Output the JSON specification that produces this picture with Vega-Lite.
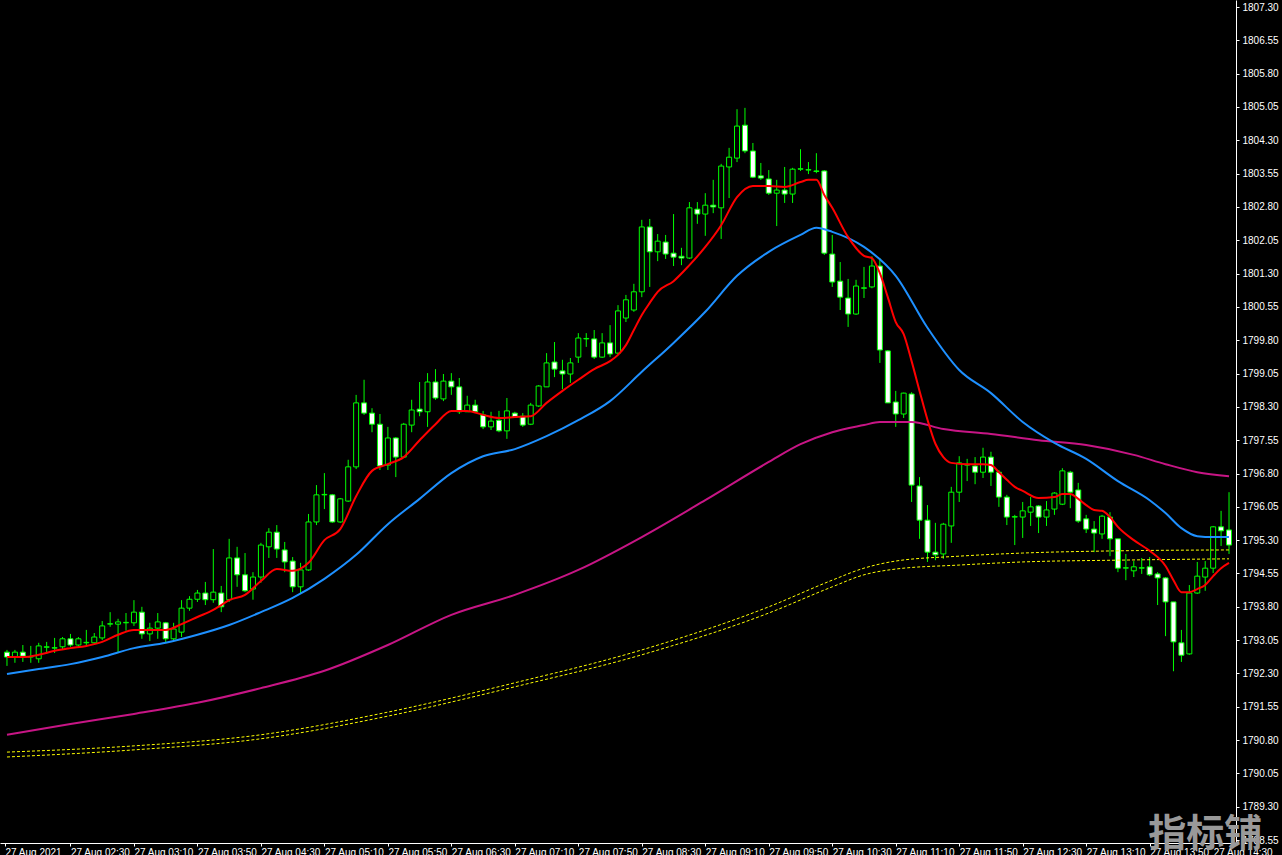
{
"$schema":"https://vega.github.io/schema/vega-lite/v6.json",
"width":1236,"height":843,
"autosize":{"type":"none"},
"padding":{"left":0,"top":0,"right":46,"bottom":12},
"background":"#000000",
"config":{"view":{"stroke":null},"axis":{"grid":false,"domainColor":"#ffffff","tickColor":"#ffffff","labelColor":"#ffffff","labelFont":"Liberation Sans","labelFontSize":10,"tickSize":3,"domainWidth":1,"title":null}},
"datasets":{
"candles":[
{"t":"01:50","o":1792.78,"h":1792.83,"l":1792.47,"c":1792.67},
{"t":"01:55","o":1792.67,"h":1792.83,"l":1792.54,"c":1792.78},
{"t":"02:00","o":1792.78,"h":1792.94,"l":1792.56,"c":1792.69},
{"t":"02:05","o":1792.67,"h":1792.92,"l":1792.54,"c":1792.68},
{"t":"02:10","o":1792.63,"h":1792.99,"l":1792.54,"c":1792.92},
{"t":"02:15","o":1792.89,"h":1793.01,"l":1792.74,"c":1792.90},
{"t":"02:20","o":1792.87,"h":1793.10,"l":1792.76,"c":1792.88},
{"t":"02:25","o":1792.90,"h":1793.12,"l":1792.85,"c":1793.08},
{"t":"02:30","o":1793.08,"h":1793.19,"l":1792.90,"c":1792.94},
{"t":"02:35","o":1792.94,"h":1793.12,"l":1792.90,"c":1793.08},
{"t":"02:40","o":1792.99,"h":1793.28,"l":1792.94,"c":1793.00},
{"t":"02:45","o":1792.99,"h":1793.21,"l":1792.96,"c":1793.12},
{"t":"02:50","o":1793.10,"h":1793.48,"l":1793.05,"c":1793.37},
{"t":"02:55","o":1793.41,"h":1793.68,"l":1793.35,"c":1793.42},
{"t":"03:00","o":1793.41,"h":1793.53,"l":1792.78,"c":1793.46},
{"t":"03:05","o":1793.44,"h":1793.66,"l":1793.26,"c":1793.45},
{"t":"03:10","o":1793.44,"h":1793.95,"l":1793.37,"c":1793.68},
{"t":"03:15","o":1793.68,"h":1793.80,"l":1793.08,"c":1793.19},
{"t":"03:20","o":1793.19,"h":1793.44,"l":1793.03,"c":1793.32},
{"t":"03:25","o":1793.32,"h":1793.66,"l":1793.08,"c":1793.46},
{"t":"03:30","o":1793.44,"h":1793.46,"l":1792.99,"c":1793.08},
{"t":"03:35","o":1793.08,"h":1793.44,"l":1793.03,"c":1793.30},
{"t":"03:40","o":1793.23,"h":1793.95,"l":1793.12,"c":1793.77},
{"t":"03:45","o":1793.77,"h":1794.04,"l":1793.71,"c":1793.97},
{"t":"03:50","o":1793.97,"h":1794.18,"l":1793.91,"c":1794.11},
{"t":"03:55","o":1794.11,"h":1794.36,"l":1793.84,"c":1793.96},
{"t":"04:00","o":1793.96,"h":1795.10,"l":1793.89,"c":1794.13},
{"t":"04:05","o":1794.11,"h":1794.27,"l":1793.68,"c":1793.80},
{"t":"04:10","o":1793.96,"h":1795.33,"l":1793.91,"c":1794.90},
{"t":"04:15","o":1794.90,"h":1795.15,"l":1794.25,"c":1794.52},
{"t":"04:20","o":1794.52,"h":1795.01,"l":1794.13,"c":1794.16},
{"t":"04:25","o":1794.20,"h":1794.58,"l":1793.96,"c":1794.47},
{"t":"04:30","o":1794.47,"h":1795.24,"l":1794.34,"c":1795.19},
{"t":"04:35","o":1795.15,"h":1795.57,"l":1794.90,"c":1795.48},
{"t":"04:40","o":1795.48,"h":1795.64,"l":1794.90,"c":1795.10},
{"t":"04:45","o":1795.08,"h":1795.26,"l":1794.58,"c":1794.81},
{"t":"04:50","o":1794.83,"h":1794.92,"l":1794.13,"c":1794.25},
{"t":"04:55","o":1794.25,"h":1794.79,"l":1794.11,"c":1794.63},
{"t":"05:00","o":1794.63,"h":1795.89,"l":1794.61,"c":1795.71},
{"t":"05:05","o":1795.71,"h":1796.54,"l":1795.64,"c":1796.32},
{"t":"05:10","o":1796.32,"h":1796.81,"l":1796.00,"c":1796.33},
{"t":"05:15","o":1796.32,"h":1796.34,"l":1795.69,"c":1795.71},
{"t":"05:20","o":1795.71,"h":1796.25,"l":1795.69,"c":1796.23},
{"t":"05:25","o":1796.18,"h":1797.11,"l":1796.16,"c":1796.95},
{"t":"05:30","o":1796.95,"h":1798.57,"l":1796.90,"c":1798.39},
{"t":"05:35","o":1798.39,"h":1798.91,"l":1798.12,"c":1798.16},
{"t":"05:40","o":1798.16,"h":1798.27,"l":1797.73,"c":1797.91},
{"t":"05:45","o":1797.91,"h":1798.14,"l":1796.88,"c":1796.97},
{"t":"05:50","o":1796.99,"h":1797.85,"l":1796.88,"c":1797.60},
{"t":"05:55","o":1797.60,"h":1797.62,"l":1796.72,"c":1797.17},
{"t":"06:00","o":1797.17,"h":1797.94,"l":1797.15,"c":1797.91},
{"t":"06:05","o":1797.89,"h":1798.46,"l":1797.73,"c":1798.23},
{"t":"06:10","o":1798.25,"h":1798.86,"l":1798.09,"c":1798.19},
{"t":"06:15","o":1798.19,"h":1799.06,"l":1797.85,"c":1798.86},
{"t":"06:20","o":1798.86,"h":1799.15,"l":1798.46,"c":1798.50},
{"t":"06:25","o":1798.48,"h":1799.04,"l":1798.43,"c":1798.88},
{"t":"06:30","o":1798.88,"h":1799.06,"l":1798.57,"c":1798.75},
{"t":"06:35","o":1798.75,"h":1798.95,"l":1798.14,"c":1798.19},
{"t":"06:40","o":1798.19,"h":1798.55,"l":1798.19,"c":1798.34},
{"t":"06:45","o":1798.34,"h":1798.46,"l":1798.16,"c":1798.19},
{"t":"06:50","o":1798.12,"h":1798.21,"l":1797.80,"c":1797.85},
{"t":"06:55","o":1797.85,"h":1798.19,"l":1797.78,"c":1797.98},
{"t":"07:00","o":1798.00,"h":1798.21,"l":1797.73,"c":1797.76},
{"t":"07:05","o":1797.76,"h":1798.50,"l":1797.58,"c":1798.21},
{"t":"07:10","o":1798.16,"h":1798.19,"l":1798.05,"c":1798.07},
{"t":"07:15","o":1798.09,"h":1798.16,"l":1797.85,"c":1797.89},
{"t":"07:20","o":1797.91,"h":1798.39,"l":1797.89,"c":1798.34},
{"t":"07:25","o":1798.32,"h":1798.79,"l":1798.30,"c":1798.77},
{"t":"07:30","o":1798.75,"h":1799.51,"l":1798.75,"c":1799.29},
{"t":"07:35","o":1799.31,"h":1799.76,"l":1798.97,"c":1799.15},
{"t":"07:40","o":1799.11,"h":1799.36,"l":1798.70,"c":1799.04},
{"t":"07:45","o":1799.04,"h":1799.40,"l":1798.84,"c":1799.29},
{"t":"07:50","o":1799.42,"h":1799.96,"l":1799.29,"c":1799.85},
{"t":"07:55","o":1799.83,"h":1799.96,"l":1799.65,"c":1799.84},
{"t":"08:00","o":1799.83,"h":1800.03,"l":1799.38,"c":1799.42},
{"t":"08:05","o":1799.42,"h":1799.96,"l":1799.40,"c":1799.74},
{"t":"08:10","o":1799.74,"h":1800.14,"l":1799.42,"c":1799.49},
{"t":"08:15","o":1799.51,"h":1800.59,"l":1799.47,"c":1800.46},
{"t":"08:20","o":1800.30,"h":1800.82,"l":1800.21,"c":1800.71},
{"t":"08:25","o":1800.48,"h":1801.07,"l":1800.44,"c":1800.89},
{"t":"08:30","o":1800.89,"h":1802.51,"l":1800.77,"c":1802.35},
{"t":"08:35","o":1802.35,"h":1802.53,"l":1801.00,"c":1801.79},
{"t":"08:40","o":1801.79,"h":1802.19,"l":1801.58,"c":1802.03},
{"t":"08:45","o":1802.01,"h":1802.17,"l":1801.63,"c":1801.74},
{"t":"08:50","o":1801.76,"h":1802.64,"l":1801.47,"c":1801.67},
{"t":"08:55","o":1801.69,"h":1801.88,"l":1801.49,"c":1801.65},
{"t":"09:00","o":1801.65,"h":1802.91,"l":1801.63,"c":1802.78},
{"t":"09:05","o":1802.75,"h":1802.91,"l":1802.42,"c":1802.64},
{"t":"09:10","o":1802.64,"h":1803.11,"l":1802.15,"c":1802.84},
{"t":"09:15","o":1802.84,"h":1803.41,"l":1802.66,"c":1802.80},
{"t":"09:20","o":1802.78,"h":1803.77,"l":1802.08,"c":1803.72},
{"t":"09:25","o":1803.70,"h":1804.13,"l":1803.00,"c":1803.92},
{"t":"09:30","o":1803.90,"h":1805.00,"l":1803.81,"c":1804.62},
{"t":"09:35","o":1804.64,"h":1805.03,"l":1804.01,"c":1804.06},
{"t":"09:40","o":1804.06,"h":1804.24,"l":1803.45,"c":1803.47},
{"t":"09:45","o":1803.50,"h":1803.79,"l":1803.41,"c":1803.45},
{"t":"09:50","o":1803.43,"h":1803.63,"l":1803.07,"c":1803.11},
{"t":"09:55","o":1803.11,"h":1803.41,"l":1802.37,"c":1803.18},
{"t":"10:00","o":1803.18,"h":1803.70,"l":1802.89,"c":1803.09},
{"t":"10:05","o":1803.09,"h":1803.68,"l":1802.89,"c":1803.65},
{"t":"10:10","o":1803.65,"h":1804.10,"l":1803.61,"c":1803.66},
{"t":"10:15","o":1803.63,"h":1803.81,"l":1803.54,"c":1803.64},
{"t":"10:20","o":1803.61,"h":1804.01,"l":1803.56,"c":1803.60},
{"t":"10:25","o":1803.61,"h":1803.63,"l":1801.72,"c":1801.76},
{"t":"10:30","o":1801.74,"h":1802.17,"l":1801.00,"c":1801.11},
{"t":"10:35","o":1801.13,"h":1801.56,"l":1800.48,"c":1800.77},
{"t":"10:40","o":1800.75,"h":1801.18,"l":1800.10,"c":1800.39},
{"t":"10:45","o":1800.39,"h":1801.16,"l":1800.37,"c":1801.02},
{"t":"10:50","o":1800.97,"h":1801.45,"l":1800.75,"c":1800.98},
{"t":"10:55","o":1801.00,"h":1801.69,"l":1800.97,"c":1801.47},
{"t":"11:00","o":1801.47,"h":1801.65,"l":1799.29,"c":1799.58},
{"t":"11:05","o":1799.56,"h":1799.58,"l":1798.39,"c":1798.39},
{"t":"11:10","o":1798.41,"h":1798.66,"l":1797.85,"c":1798.14},
{"t":"11:15","o":1798.14,"h":1798.62,"l":1798.05,"c":1798.61},
{"t":"11:20","o":1798.59,"h":1798.63,"l":1796.16,"c":1796.54},
{"t":"11:25","o":1796.52,"h":1796.72,"l":1795.33,"c":1795.75},
{"t":"11:30","o":1795.75,"h":1796.09,"l":1794.81,"c":1795.03},
{"t":"11:35","o":1795.03,"h":1795.69,"l":1794.85,"c":1794.97},
{"t":"11:40","o":1794.99,"h":1795.69,"l":1794.88,"c":1795.66},
{"t":"11:45","o":1795.62,"h":1796.50,"l":1795.24,"c":1796.38},
{"t":"11:50","o":1796.38,"h":1797.19,"l":1796.16,"c":1797.04},
{"t":"11:55","o":1796.99,"h":1797.13,"l":1796.63,"c":1797.00},
{"t":"12:00","o":1796.97,"h":1797.17,"l":1796.56,"c":1796.83},
{"t":"12:05","o":1796.83,"h":1797.38,"l":1796.70,"c":1797.17},
{"t":"12:10","o":1797.17,"h":1797.29,"l":1796.52,"c":1796.83},
{"t":"12:15","o":1796.83,"h":1796.88,"l":1796.05,"c":1796.27},
{"t":"12:20","o":1796.27,"h":1796.32,"l":1795.64,"c":1795.82},
{"t":"12:25","o":1795.82,"h":1795.87,"l":1795.19,"c":1795.83},
{"t":"12:30","o":1795.82,"h":1796.16,"l":1795.35,"c":1795.96},
{"t":"12:35","o":1795.93,"h":1796.27,"l":1795.62,"c":1796.05},
{"t":"12:40","o":1796.07,"h":1796.09,"l":1795.46,"c":1795.82},
{"t":"12:45","o":1795.82,"h":1796.18,"l":1795.62,"c":1795.98},
{"t":"12:50","o":1796.00,"h":1796.38,"l":1795.87,"c":1796.36},
{"t":"12:55","o":1796.11,"h":1796.92,"l":1796.09,"c":1796.86},
{"t":"13:00","o":1796.83,"h":1796.86,"l":1796.02,"c":1796.38},
{"t":"13:05","o":1796.43,"h":1796.59,"l":1795.69,"c":1795.73},
{"t":"13:10","o":1795.78,"h":1795.87,"l":1795.46,"c":1795.55},
{"t":"13:15","o":1795.55,"h":1795.73,"l":1795.03,"c":1795.46},
{"t":"13:20","o":1795.44,"h":1795.87,"l":1795.33,"c":1795.84},
{"t":"13:25","o":1795.82,"h":1795.93,"l":1794.94,"c":1795.33},
{"t":"13:30","o":1795.33,"h":1795.33,"l":1794.58,"c":1794.67},
{"t":"13:35","o":1794.67,"h":1794.99,"l":1794.40,"c":1794.68},
{"t":"13:40","o":1794.61,"h":1794.83,"l":1794.47,"c":1794.70},
{"t":"13:45","o":1794.67,"h":1794.90,"l":1794.54,"c":1794.68},
{"t":"13:50","o":1794.70,"h":1794.92,"l":1794.49,"c":1794.52},
{"t":"13:55","o":1794.54,"h":1794.58,"l":1793.84,"c":1794.45},
{"t":"14:00","o":1794.45,"h":1794.47,"l":1793.14,"c":1793.91},
{"t":"14:05","o":1793.91,"h":1793.91,"l":1792.35,"c":1793.01},
{"t":"14:10","o":1792.99,"h":1793.28,"l":1792.56,"c":1792.71},
{"t":"14:15","o":1792.74,"h":1794.29,"l":1792.72,"c":1794.11},
{"t":"14:20","o":1794.11,"h":1794.81,"l":1794.09,"c":1794.49},
{"t":"14:25","o":1794.47,"h":1794.83,"l":1794.16,"c":1794.67},
{"t":"14:30","o":1794.67,"h":1795.62,"l":1794.56,"c":1795.60},
{"t":"14:35","o":1795.60,"h":1795.96,"l":1795.17,"c":1795.51},
{"t":"14:40","o":1795.53,"h":1796.38,"l":1794.99,"c":1795.19}
],
"lines":[
{"s":"red","t":"01:50","v":1792.67},{"s":"red","t":"02:00","v":1792.67},{"s":"red","t":"02:10","v":1792.72},{"s":"red","t":"02:20","v":1792.81},{"s":"red","t":"02:30","v":1792.87},{"s":"red","t":"02:40","v":1792.92},{"s":"red","t":"02:50","v":1793.01},{"s":"red","t":"03:00","v":1793.17},{"s":"red","t":"03:10","v":1793.28},{"s":"red","t":"03:20","v":1793.28},{"s":"red","t":"03:30","v":1793.28},{"s":"red","t":"03:40","v":1793.41},{"s":"red","t":"03:50","v":1793.57},{"s":"red","t":"04:00","v":1793.73},{"s":"red","t":"04:05","v":1793.84},{"s":"red","t":"04:10","v":1793.95},{"s":"red","t":"04:20","v":1794.07},{"s":"red","t":"04:30","v":1794.38},{"s":"red","t":"04:40","v":1794.65},{"s":"red","t":"04:50","v":1794.61},{"s":"red","t":"05:00","v":1794.79},{"s":"red","t":"05:10","v":1795.30},{"s":"red","t":"05:20","v":1795.55},{"s":"red","t":"05:30","v":1796.29},{"s":"red","t":"05:40","v":1796.86},{"s":"red","t":"05:50","v":1797.01},{"s":"red","t":"06:00","v":1797.17},{"s":"red","t":"06:10","v":1797.55},{"s":"red","t":"06:20","v":1797.91},{"s":"red","t":"06:30","v":1798.21},{"s":"red","t":"06:40","v":1798.21},{"s":"red","t":"06:50","v":1798.12},{"s":"red","t":"07:00","v":1798.05},{"s":"red","t":"07:10","v":1798.07},{"s":"red","t":"07:20","v":1798.09},{"s":"red","t":"07:30","v":1798.39},{"s":"red","t":"07:40","v":1798.66},{"s":"red","t":"07:50","v":1798.91},{"s":"red","t":"08:00","v":1799.15},{"s":"red","t":"08:10","v":1799.33},{"s":"red","t":"08:15","v":1799.47},{"s":"red","t":"08:20","v":1799.69},{"s":"red","t":"08:25","v":1800.03},{"s":"red","t":"08:30","v":1800.37},{"s":"red","t":"08:35","v":1800.64},{"s":"red","t":"08:40","v":1800.89},{"s":"red","t":"08:50","v":1801.13},{"s":"red","t":"09:00","v":1801.49},{"s":"red","t":"09:10","v":1801.90},{"s":"red","t":"09:20","v":1802.39},{"s":"red","t":"09:30","v":1803.02},{"s":"red","t":"09:40","v":1803.27},{"s":"red","t":"09:50","v":1803.27},{"s":"red","t":"10:00","v":1803.25},{"s":"red","t":"10:10","v":1803.36},{"s":"red","t":"10:15","v":1803.41},{"s":"red","t":"10:20","v":1803.41},{"s":"red","t":"10:25","v":1803.07},{"s":"red","t":"10:30","v":1802.78},{"s":"red","t":"10:40","v":1802.12},{"s":"red","t":"10:50","v":1801.70},{"s":"red","t":"10:55","v":1801.65},{"s":"red","t":"11:00","v":1801.31},{"s":"red","t":"11:05","v":1800.77},{"s":"red","t":"11:10","v":1800.21},{"s":"red","t":"11:15","v":1799.94},{"s":"red","t":"11:20","v":1799.33},{"s":"red","t":"11:25","v":1798.66},{"s":"red","t":"11:30","v":1798.01},{"s":"red","t":"11:35","v":1797.47},{"s":"red","t":"11:40","v":1797.17},{"s":"red","t":"11:45","v":1797.04},{"s":"red","t":"11:55","v":1797.01},{"s":"red","t":"12:05","v":1797.01},{"s":"red","t":"12:10","v":1796.99},{"s":"red","t":"12:15","v":1796.83},{"s":"red","t":"12:20","v":1796.66},{"s":"red","t":"12:25","v":1796.50},{"s":"red","t":"12:30","v":1796.41},{"s":"red","t":"12:40","v":1796.25},{"s":"red","t":"12:50","v":1796.27},{"s":"red","t":"12:55","v":1796.34},{"s":"red","t":"13:00","v":1796.34},{"s":"red","t":"13:05","v":1796.23},{"s":"red","t":"13:10","v":1796.09},{"s":"red","t":"13:15","v":1795.98},{"s":"red","t":"13:20","v":1795.96},{"s":"red","t":"13:25","v":1795.82},{"s":"red","t":"13:30","v":1795.60},{"s":"red","t":"13:40","v":1795.30},{"s":"red","t":"13:50","v":1795.06},{"s":"red","t":"14:00","v":1794.72},{"s":"red","t":"14:05","v":1794.40},{"s":"red","t":"14:10","v":1794.13},{"s":"red","t":"14:15","v":1794.13},{"s":"red","t":"14:20","v":1794.20},{"s":"red","t":"14:25","v":1794.29},{"s":"red","t":"14:30","v":1794.49},{"s":"red","t":"14:35","v":1794.67},{"s":"red","t":"14:40","v":1794.79},
{"s":"blue","t":"01:50","v":1792.29},{"s":"blue","t":"02:10","v":1792.40},{"s":"blue","t":"02:30","v":1792.51},{"s":"blue","t":"02:50","v":1792.67},{"s":"blue","t":"03:10","v":1792.87},{"s":"blue","t":"03:30","v":1792.99},{"s":"blue","t":"03:50","v":1793.17},{"s":"blue","t":"04:10","v":1793.39},{"s":"blue","t":"04:30","v":1793.68},{"s":"blue","t":"04:50","v":1794.00},{"s":"blue","t":"05:10","v":1794.43},{"s":"blue","t":"05:30","v":1794.97},{"s":"blue","t":"05:50","v":1795.66},{"s":"blue","t":"06:10","v":1796.23},{"s":"blue","t":"06:30","v":1796.81},{"s":"blue","t":"06:50","v":1797.19},{"s":"blue","t":"07:10","v":1797.35},{"s":"blue","t":"07:30","v":1797.64},{"s":"blue","t":"07:50","v":1798.00},{"s":"blue","t":"08:10","v":1798.43},{"s":"blue","t":"08:30","v":1799.09},{"s":"blue","t":"08:50","v":1799.74},{"s":"blue","t":"09:10","v":1800.44},{"s":"blue","t":"09:30","v":1801.25},{"s":"blue","t":"09:50","v":1801.79},{"s":"blue","t":"10:10","v":1802.17},{"s":"blue","t":"10:20","v":1802.33},{"s":"blue","t":"10:30","v":1802.24},{"s":"blue","t":"10:50","v":1801.90},{"s":"blue","t":"11:10","v":1801.25},{"s":"blue","t":"11:30","v":1800.08},{"s":"blue","t":"11:50","v":1799.13},{"s":"blue","t":"12:10","v":1798.61},{"s":"blue","t":"12:30","v":1797.96},{"s":"blue","t":"12:50","v":1797.49},{"s":"blue","t":"13:10","v":1797.13},{"s":"blue","t":"13:30","v":1796.63},{"s":"blue","t":"13:50","v":1796.20},{"s":"blue","t":"14:00","v":1795.91},{"s":"blue","t":"14:10","v":1795.57},{"s":"blue","t":"14:20","v":1795.39},{"s":"blue","t":"14:30","v":1795.37},{"s":"blue","t":"14:40","v":1795.37},
{"s":"mag","t":"01:50","v":1790.92},{"s":"mag","t":"02:30","v":1791.16},{"s":"mag","t":"03:10","v":1791.39},{"s":"mag","t":"03:50","v":1791.64},{"s":"mag","t":"04:30","v":1791.97},{"s":"mag","t":"05:10","v":1792.36},{"s":"mag","t":"05:50","v":1792.94},{"s":"mag","t":"06:30","v":1793.62},{"s":"mag","t":"07:10","v":1794.07},{"s":"mag","t":"07:50","v":1794.63},{"s":"mag","t":"08:30","v":1795.37},{"s":"mag","t":"09:10","v":1796.20},{"s":"mag","t":"09:50","v":1797.06},{"s":"mag","t":"10:10","v":1797.46},{"s":"mag","t":"10:30","v":1797.73},{"s":"mag","t":"10:50","v":1797.89},{"s":"mag","t":"11:00","v":1797.96},{"s":"mag","t":"11:20","v":1797.96},{"s":"mag","t":"11:40","v":1797.80},{"s":"mag","t":"12:10","v":1797.69},{"s":"mag","t":"12:40","v":1797.55},{"s":"mag","t":"13:10","v":1797.44},{"s":"mag","t":"13:40","v":1797.22},{"s":"mag","t":"14:00","v":1797.01},{"s":"mag","t":"14:20","v":1796.83},{"s":"mag","t":"14:40","v":1796.74},
{"s":"yu","t":"01:50","v":1790.53},{"s":"yu","t":"03:10","v":1790.67},{"s":"yu","t":"04:30","v":1790.92},{"s":"yu","t":"05:50","v":1791.43},{"s":"yu","t":"07:10","v":1792.09},{"s":"yu","t":"08:30","v":1792.83},{"s":"yu","t":"09:50","v":1793.80},{"s":"yu","t":"10:30","v":1794.40},{"s":"yu","t":"10:50","v":1794.67},{"s":"yu","t":"11:10","v":1794.83},{"s":"yu","t":"11:50","v":1794.94},{"s":"yu","t":"12:30","v":1795.01},{"s":"yu","t":"13:30","v":1795.06},{"s":"yu","t":"14:40","v":1795.08},
{"s":"yl","t":"01:50","v":1790.42},{"s":"yl","t":"03:10","v":1790.58},{"s":"yl","t":"04:30","v":1790.83},{"s":"yl","t":"05:50","v":1791.34},{"s":"yl","t":"07:10","v":1792.00},{"s":"yl","t":"08:30","v":1792.72},{"s":"yl","t":"09:50","v":1793.66},{"s":"yl","t":"10:30","v":1794.25},{"s":"yl","t":"10:50","v":1794.52},{"s":"yl","t":"11:10","v":1794.65},{"s":"yl","t":"11:50","v":1794.74},{"s":"yl","t":"12:30","v":1794.81},{"s":"yl","t":"13:30","v":1794.85},{"s":"yl","t":"14:40","v":1794.88}
],
"wm":[{"t":"14:25","v":1788.66,"txt":"指标铺"}]
},
"encoding":{
"x":{"field":"t","type":"temporal","scale":{"type":"utc","domain":[{"year":1900,"month":1,"date":1,"hours":1,"minutes":48,"seconds":45,"utc":true},{"year":1900,"month":1,"date":1,"hours":14,"minutes":41,"seconds":15,"utc":true}]},
"axis":{"orient":"bottom","labelAlign":"left","labelBaseline":"top","labelPadding":1,"labelOverlap":false,"labelBound":false,"labelFlush":false,"tickCount":40,
"values":[{"year":1900,"month":1,"date":1,"hours":1,"minutes":48,"seconds":45,"utc":true},{"year":1900,"month":1,"date":1,"hours":2,"minutes":30,"utc":true},{"year":1900,"month":1,"date":1,"hours":3,"minutes":10,"utc":true},{"year":1900,"month":1,"date":1,"hours":3,"minutes":50,"utc":true},{"year":1900,"month":1,"date":1,"hours":4,"minutes":30,"utc":true},{"year":1900,"month":1,"date":1,"hours":5,"minutes":10,"utc":true},{"year":1900,"month":1,"date":1,"hours":5,"minutes":50,"utc":true},{"year":1900,"month":1,"date":1,"hours":6,"minutes":30,"utc":true},{"year":1900,"month":1,"date":1,"hours":7,"minutes":10,"utc":true},{"year":1900,"month":1,"date":1,"hours":7,"minutes":50,"utc":true},{"year":1900,"month":1,"date":1,"hours":8,"minutes":30,"utc":true},{"year":1900,"month":1,"date":1,"hours":9,"minutes":10,"utc":true},{"year":1900,"month":1,"date":1,"hours":9,"minutes":50,"utc":true},{"year":1900,"month":1,"date":1,"hours":10,"minutes":30,"utc":true},{"year":1900,"month":1,"date":1,"hours":11,"minutes":10,"utc":true},{"year":1900,"month":1,"date":1,"hours":11,"minutes":50,"utc":true},{"year":1900,"month":1,"date":1,"hours":12,"minutes":30,"utc":true},{"year":1900,"month":1,"date":1,"hours":13,"minutes":10,"utc":true},{"year":1900,"month":1,"date":1,"hours":13,"minutes":50,"utc":true},{"year":1900,"month":1,"date":1,"hours":14,"minutes":30,"utc":true}],
"labelExpr":"utchours(datum.value) < 2 ? '27 Aug 2021' : '27 Aug ' + utcFormat(datum.value, '%H:%M')"}}
},
"layer":[
{"data":{"name":"candles","format":{"parse":{"t":"utc:'%H:%M'"}}},
"layer":[
{"mark":{"type":"rule","color":"#00ff00","strokeWidth":1},
"encoding":{"y":{"field":"l","type":"quantitative","scale":{"domain":[1788.484,1807.458],"nice":false,"zero":false},
"axis":{"orient":"right","format":".2f","labelPadding":3,"labelOverlap":false,"labelBound":false,"labelFlush":false,"tickCount":40,"values":[1788.55,1789.30,1790.05,1790.80,1791.55,1792.30,1793.05,1793.80,1794.55,1795.30,1796.05,1796.80,1797.55,1798.30,1799.05,1799.80,1800.55,1801.30,1802.05,1802.80,1803.55,1804.30,1805.05,1805.80,1806.55,1807.30]}},
"y2":{"field":"h"}}},
{"mark":{"type":"bar","width":5,"stroke":"#00ff00","strokeWidth":1},
"encoding":{"y":{"field":"o","type":"quantitative"},
"y2":{"field":"c"},
"fill":{"condition":{"test":"datum.c > datum.o","value":"#000000"},"value":"#ffffff"}}}
]},
{"data":{"name":"lines","format":{"parse":{"t":"utc:'%H:%M'"}}},
"layer":[
{"transform":[{"filter":"datum.s == 'mag'"}],
"mark":{"type":"line","color":"#c71585","strokeWidth":2,"interpolate":"monotone"},
"encoding":{"y":{"field":"v","type":"quantitative"}}},
{"transform":[{"filter":"datum.s == 'yu' || datum.s == 'yl'"}],
"mark":{"type":"line","color":"#ffff00","strokeWidth":1,"strokeDash":[3,2],"interpolate":"monotone"},
"encoding":{"y":{"field":"v","type":"quantitative"},"detail":{"field":"s"}}},
{"transform":[{"filter":"datum.s == 'blue'"}],
"mark":{"type":"line","color":"#1e90ff","strokeWidth":2,"interpolate":"monotone"},
"encoding":{"y":{"field":"v","type":"quantitative"}}},
{"transform":[{"filter":"datum.s == 'red'"}],
"mark":{"type":"line","color":"#ff0000","strokeWidth":2,"interpolate":"monotone"},
"encoding":{"y":{"field":"v","type":"quantitative"}}}
]},
{"data":{"name":"wm","format":{"parse":{"t":"utc:'%H:%M'"}}},
"mark":{"type":"text","font":"Noto Sans CJK SC","fontSize":38,"fontWeight":"bold","color":"#999999","align":"center","baseline":"middle","clip":false},
"encoding":{"y":{"field":"v","type":"quantitative"},"text":{"field":"txt"}}}
]
}
